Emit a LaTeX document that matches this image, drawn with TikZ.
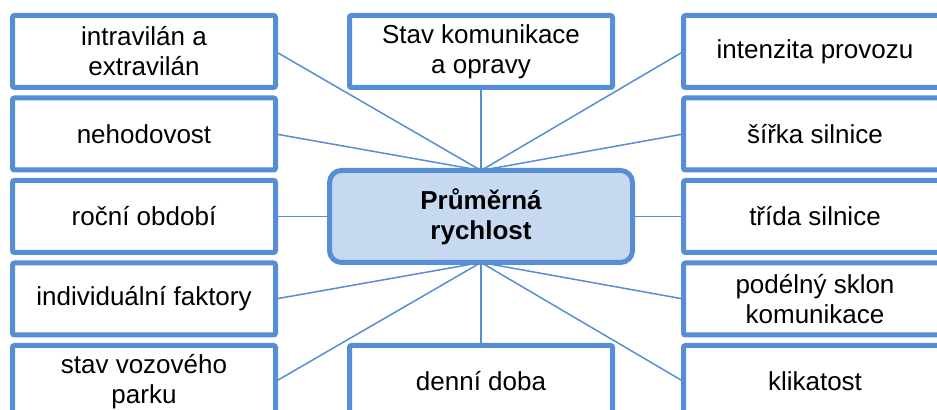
\documentclass[tikz,border=0pt]{standalone}
\usepackage{fontspec}
\setmainfont{Liberation Sans}
\usetikzlibrary{positioning}
\definecolor{accent}{HTML}{558ED5}
\definecolor{accentfill}{HTML}{C6D9F1}
\tikzset{
  factorbox/.style={
    rectangle, draw=accent, fill=white, line width=2.5pt,
    rounded corners=1pt,
    minimum width=131.5pt, minimum height=36pt,
    font=\fontsize{13}{15}\selectfont, align=center,
    inner sep=2pt, outer sep=0pt
  },
  hubbox/.style={
    rectangle, draw=accent, fill=accentfill, line width=2.5pt,
    rounded corners=6pt,
    minimum width=151.5pt, minimum height=46pt,
    font=\fontsize{13}{15}\selectfont\bfseries, align=center,
    inner sep=2pt, outer sep=0pt
  },
  link/.style={draw=accent, line width=0.75pt},
}

\begin{document}
\begin{tikzpicture}[x=0.5pt, y=0.5pt, node distance=5.25pt]
\clip (0,0) rectangle (937,410);
\node[hubbox] (hub) at (481,193.5) {Průměrná\\rychlost};
% left column
\node[factorbox, left=27pt of hub] (rocni) {roční období};
\node[factorbox, above=of rocni] (nehod) {nehodovost};
\node[factorbox, above=of nehod] (intra) {intravilán a\\extravilán};
\node[factorbox, below=of rocni] (indiv) {individuální faktory};
\node[factorbox, below=of indiv] (vozpark) {stav vozového\\parku};
% middle column
\node[factorbox, above=41.5pt of hub] (stav) {Stav komunikace\\a opravy};
\node[factorbox, below=41.5pt of hub] (denni) {denní doba};
% right column
\node[factorbox, right=25.5pt of hub] (trida) {třída silnice};
\node[factorbox, above=of trida] (sirka) {šířka silnice};
\node[factorbox, above=of sirka] (intenz) {intenzita provozu};
\node[factorbox, below=of trida] (sklon) {podélný sklon\\komunikace};
\node[factorbox, below=of sklon] (klik) {klikatost};
% links
\draw[link] (hub.north) -- (intra.east);
\draw[link] (hub.north) -- (nehod.east);
\draw[link] (hub.north) -- (stav.south);
\draw[link] (hub.north) -- (intenz.west);
\draw[link] (hub.north) -- (sirka.west);
\draw[link] (hub.west) -- (rocni.east);
\draw[link] (hub.east) -- (trida.west);
\draw[link] (hub.south) -- (indiv.east);
\draw[link] (hub.south) -- (vozpark.east);
\draw[link] (hub.south) -- (denni.north);
\draw[link] (hub.south) -- (sklon.west);
\draw[link] (hub.south) -- (klik.west);
\end{tikzpicture}
\end{document}
